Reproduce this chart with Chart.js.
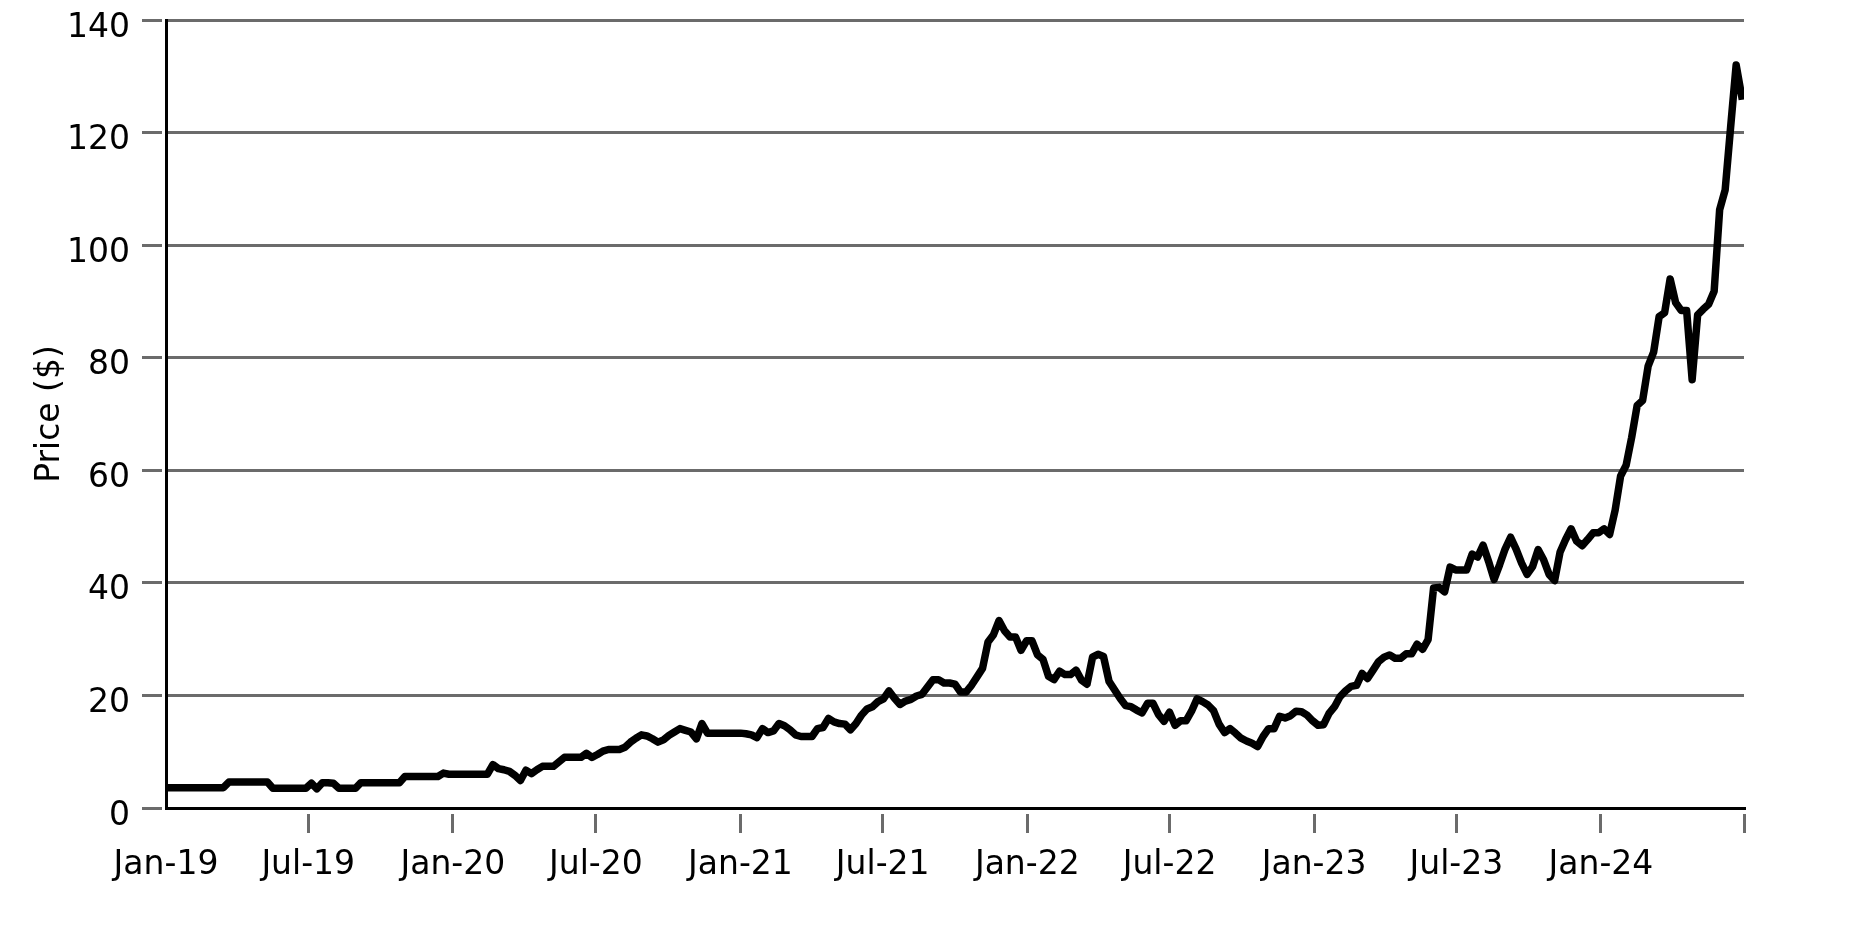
<!DOCTYPE html>
<html lang="en">
<head>
    <meta charset="UTF-8">
    <title>Price ($)</title>
    <script src="https://cdn.jsdelivr.net/npm/chart.js"></script>
    <style>
        body { margin: 0; background: #fff; }
        canvas { display: block; }
    </style>
</head>
<body>
    <canvas id="priceChart" width="1875" height="938"></canvas>
    <script>
        // weekly closes, one value per Friday starting 2019-01-04
        const firstWeek = '2019-01-04';

        const prices2019 = [
            3.6, 3.6, 3.6, 3.6, 3.6, 3.6, 3.6, 3.6, 3.6, 3.6, 3.6,
            4.6, 4.6, 4.6, 4.6, 4.6, 4.6, 4.6, 4.6,
            3.5, 3.5, 3.5, 3.5, 3.5, 3.5, 3.5,
            4.4, 3.4, 4.5, 4.5, 4.4,
            3.5, 3.5, 3.5, 3.5,
            4.5, 4.5, 4.5, 4.5, 4.5, 4.5, 4.5, 4.5,
            5.6, 5.6, 5.6, 5.6, 5.6, 5.6, 5.6,
            6.2, 6.0
        ];
        const prices2020 = [
            6.0, 6.0, 6.0, 6.0, 6.0, 6.0, 6.0,
            7.7, 7.0, 6.8, 6.5, 5.8, 4.9, 6.7, 6.1, 6.8, 7.4,
            7.4, 7.4, 8.2, 9.0, 9.0, 9.0, 9.0, 9.7, 9.0, 9.5,
            10.1, 10.4, 10.4, 10.4, 10.8, 11.7, 12.4, 13.0, 12.8, 12.3,
            11.7, 12.1, 12.9, 13.5, 14.1, 13.8, 13.5, 12.3, 15.0, 13.3,
            13.3, 13.3, 13.3, 13.3, 13.3
        ];
        const prices2021 = [
            13.3, 13.2, 13.0, 12.5, 14.1, 13.4, 13.7, 15.0, 14.6, 13.9,
            13.0, 12.7, 12.7, 12.7, 14.1, 14.3, 15.9, 15.3, 15.0, 14.9,
            13.9, 15.0, 16.5, 17.6, 18.0, 18.9, 19.4, 20.8, 19.5, 18.4,
            19.0, 19.3, 19.9, 20.2, 21.5, 22.8, 22.8, 22.2, 22.2, 22.0,
            20.6, 20.6, 21.8, 23.3, 24.8, 29.5, 30.8, 33.3, 31.5, 30.4,
            30.4, 28.0, 29.7
        ];
        const prices2022 = [
            29.7, 27.2, 26.4, 23.4, 22.8, 24.3, 23.7, 23.7, 24.5, 22.7,
            22.0, 26.8, 27.3, 26.9, 22.5, 21.0, 19.5, 18.2, 18.0, 17.4,
            16.9, 18.6, 18.6, 16.6, 15.4, 17.0, 14.7, 15.5, 15.5, 17.2,
            19.4, 18.9, 18.3, 17.3, 14.9, 13.4, 14.1, 13.3, 12.4, 11.9,
            11.5, 10.9, 12.7, 14.1, 14.1, 16.3, 16.0, 16.4, 17.2, 17.1,
            16.5, 15.5
        ];
        const prices2023 = [
            14.7, 14.8, 16.8, 18.0, 19.8, 20.8, 21.6, 21.8, 23.9, 23.0,
            24.5, 26.0, 26.8, 27.2, 26.6, 26.6, 27.4, 27.4, 29.1, 28.2,
            29.9, 39.1, 39.2, 38.4, 42.8, 42.3, 42.3, 42.3, 45.1, 44.6,
            46.7, 43.8, 40.6, 43.2, 46.0, 48.1, 46.0, 43.5, 41.5, 42.9,
            45.9, 44.1, 41.5, 40.4, 45.5, 47.7, 49.6, 47.4, 46.6, 47.7,
            48.9, 48.9
        ];
        const prices2024 = [
            49.6, 48.6, 52.9, 59.0, 60.9, 65.8, 71.5, 72.4, 78.5, 81.0,
            87.3, 88.0, 94.0, 89.8, 88.4, 88.4, 76.1, 87.6, 88.6, 89.5,
            91.8, 106.3, 109.8, 121.0, 132.0, 126.5
        ];

        const tickDates = [
            '2019-01-01', '2019-07-01', '2020-01-01', '2020-07-01',
            '2021-01-01', '2021-07-01', '2022-01-01', '2022-07-01',
            '2023-01-01', '2023-07-01', '2024-01-01', '2024-07-01'
        ];
        const tickLabels = [
            'Jan-19', 'Jul-19', 'Jan-20', 'Jul-20', 'Jan-21', 'Jul-21',
            'Jan-22', 'Jul-22', 'Jan-23', 'Jul-23', 'Jan-24', ''
        ];

        const prices = [].concat(prices2019, prices2020, prices2021, prices2022, prices2023, prices2024);
        const DAY = 86400000;
        const start = Date.parse(firstWeek);
        const points = prices.map((p, i) => ({ x: start + i * 7 * DAY, y: p }));
        const tickValues = tickDates.map(d => Date.parse(d));

        const gridGray = '#6b6b6b';
        const font = { family: 'DejaVu Sans', size: 33 };

        new Chart(document.getElementById('priceChart'), {
            type: 'line',
            data: {
                datasets: [{
                    data: points,
                    borderColor: '#000',
                    borderWidth: 7.5,
                    pointRadius: 0,
                    tension: 0,
                    borderJoinStyle: 'round',
                    borderCapStyle: 'square'
                }]
            },
            options: {
                responsive: false,
                animation: false,
                layout: { padding: { left: 0, right: 131, top: 20, bottom: 0 } },
                plugins: {
                    legend: { display: false },
                    tooltip: { enabled: false }
                },
                scales: {
                    x: {
                        type: 'linear',
                        min: tickValues[0],
                        max: tickValues[tickValues.length - 1],
                        afterBuildTicks: s => { s.ticks = tickValues.map(v => ({ value: v })); },
                        afterFit: s => { s.height = 130; },
                        ticks: {
                            autoSkip: false,
                            maxRotation: 0,
                            padding: 13,
                            color: '#000',
                            font: font,
                            callback: (v, i) => tickLabels[i]
                        },
                        grid: {
                            drawOnChartArea: false,
                            drawTicks: true,
                            lineWidth: 3,
                            tickLength: 25,
                            tickWidth: 3,
                            tickColor: c => c.index === 0 ? 'rgba(0,0,0,0)' : gridGray,
                            tickBorderDash: [0, 4, 20, 100]
                        },
                        border: { color: '#000', width: 3 }
                    },
                    y: {
                        min: 0,
                        max: 140,
                        afterFit: s => {
                            s.width = 166;
                            s.paddingTop = 0;
                            s.paddingBottom = 0;
                        },
                        ticks: {
                            stepSize: 20,
                            padding: 12,
                            labelOffset: 8,
                            color: '#000',
                            font: font
                        },
                        grid: {
                            color: c => (c.tick && c.tick.value === 0) ? 'rgba(0,0,0,0)' : gridGray,
                            lineWidth: 3,
                            tickLength: 24,
                            tickWidth: 3,
                            tickColor: gridGray,
                            tickBorderDash: [20, 100]
                        },
                        border: { color: '#000', width: 3 },
                        title: {
                            display: true,
                            text: 'Price ($)',
                            color: '#000',
                            font: font,
                            padding: { top: 31, bottom: 0 }
                        }
                    }
                }
            }
        });
    </script>
</body>
</html>
